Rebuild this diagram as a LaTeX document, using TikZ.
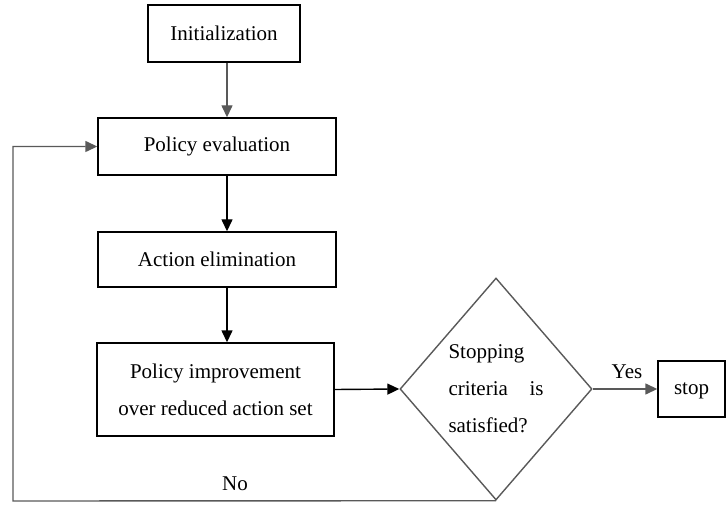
\documentclass[tikz,border=0pt]{standalone}
\usepackage{fontspec}
\setmainfont{Liberation Serif}
\usetikzlibrary{arrows.meta, shapes.geometric, positioning}
\tikzset{
  stepbox/.style={draw, line width=1.4pt, inner sep=0pt, align=center},
  decision/.style={diamond, draw=black!65, line width=1.4pt, minimum width=192pt,
    minimum height=222pt, inner sep=0pt, text width=95pt, align=left},
  flow/.style={-{Triangle[length=12pt,width=11pt]}, line width=1.4pt},
}

\begin{document}
\begin{tikzpicture}[x=1pt, y=-1pt, font=\fontsize{21}{37}\selectfont]
  \useasboundingbox (0,0) rectangle (728,505);

  % boxes of the main column
  \node[stepbox, minimum width=152pt, minimum height=57pt] (init) at (224,33.5) {Initialization};
  \node[stepbox, minimum width=238pt, minimum height=57pt] (eval) at (217,146.5) {Policy evaluation};
  \node[stepbox, minimum width=238pt, minimum height=55pt] (elim) at (217,259.5) {Action elimination};
  \node[stepbox, minimum width=237pt, minimum height=93pt] (impr) at (215.5,389.5)
    {Policy improvement\\over reduced action set};

  % test and end
  \node[decision] (test) at (496,389) {Stopping\\criteria\hfill is\\satisfied?};
  \node[stepbox, minimum width=67pt, minimum height=56pt, text depth=-4pt] (stop) at (691.5,389) {stop};

  % connectors
  \draw[flow, draw=black!65] (init.south -| 227,0) -- (227,0 |- eval.north);
  \draw[flow] (eval.south -| 227,0) -- (227,0 |- elim.north);
  \draw[flow] (elim.south -| 227,0) -- (227,0 |- impr.north);
  \draw[flow] (impr.east) -- (test.west);
  \draw[flow, draw=black!65] (test.east) -- (stop.west);
  \node[anchor=base] (yes) at (627,378) {Yes};

  \coordinate (back) at (13,501);
  \draw[flow, draw=black!65] (test.south) -- (back) |- (eval.west);
  \node[anchor=base] (no) at (235,490) {No};
\end{tikzpicture}
\end{document}
